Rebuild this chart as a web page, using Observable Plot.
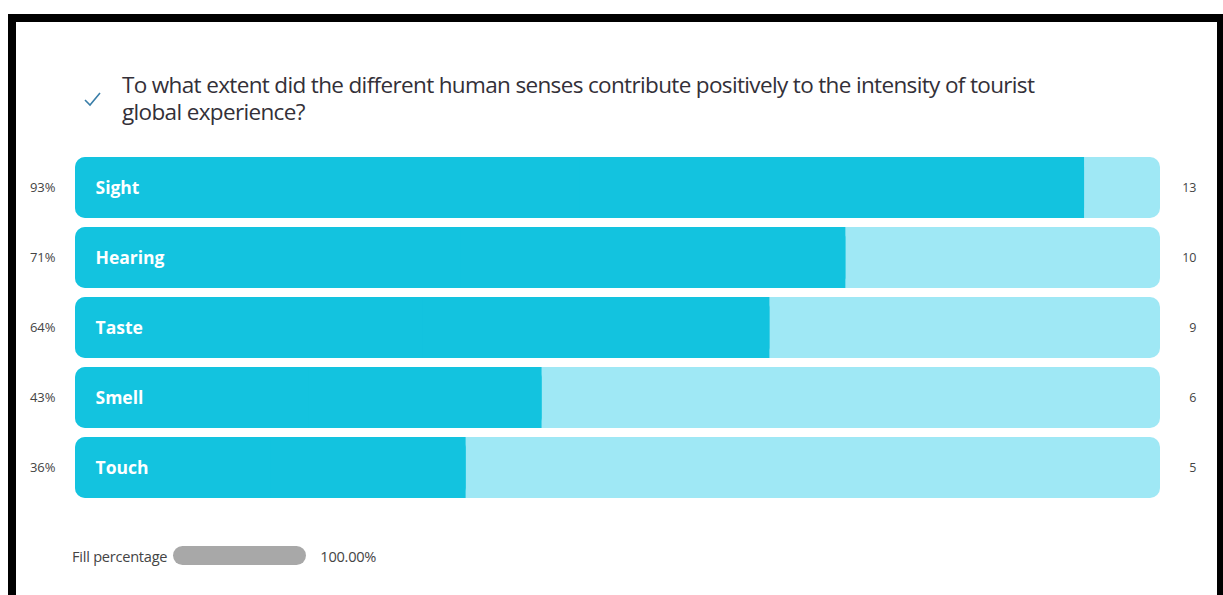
<!DOCTYPE html>
<html>
<head>
<meta charset="utf-8">
<script src="https://cdn.jsdelivr.net/npm/d3@7"></script>
<script src="https://cdn.jsdelivr.net/npm/@observablehq/plot@0.6"></script>
<style>
  html, body { margin: 0; padding: 0; background: #fff; }
  body { width: 1223px; height: 595px; position: relative; overflow: hidden; }
  .frame { position: absolute; background: #000; }
  #title { position: absolute; left: 122px; top: 71px; font-family: "Open Sans", sans-serif; font-size: 22.5px; line-height: 27px; color: #333038; letter-spacing: -0.65px; width: 950px; }
  #check { position: absolute; left: 82px; top: 89px; width: 20px; height: 20px; }
  #chart { position: absolute; left: 0; top: 150px; }
  #legend { position: absolute; left: 72px; top: 546px; height: 19px; display: flex; align-items: center; font-family: "Open Sans", sans-serif; font-size: 14.6px; color: #444; letter-spacing: -0.25px; }
  #legend .pill { width: 133px; height: 19px; border-radius: 10px; background: #a8a8a8; margin: 0 14px 0 6px; }
</style>
</head>
<body>
<div class="frame" style="left:8px;top:14px;width:1215px;height:8px"></div>
<div class="frame" style="left:8px;top:14px;width:8px;height:581px"></div>
<div class="frame" style="left:1217px;top:14px;width:6px;height:581px"></div>
<svg id="check" viewBox="0 0 20 20"><path d="M3 11 L8 16 L18 4" fill="none" stroke="#3a7ea8" stroke-width="1.6"/></svg>
<div id="title">To what extent did the different human senses contribute positively to the intensity of tourist global experience?</div>
<div id="chart"></div>
<div id="legend"><span>Fill percentage</span><span class="pill"></span><span>100.00%</span></div>
<script>
const senses = ["Sight", "Hearing", "Taste", "Smell", "Touch"];
const percents = [93, 71, 64, 43, 36];
const counts = [13, 10, 9, 6, 5];

const data = senses.map((s, i) => ({sense: s, pct: percents[i], count: counts[i]}));

const chart = Plot.plot({
  width: 1223,
  height: 358,
  marginLeft: 75,
  marginRight: 63,
  marginTop: 7,
  marginBottom: 10,
  x: {domain: [0, 100], axis: null},
  y: {domain: senses, axis: null, paddingInner: 9 / 70, paddingOuter: 0},
  style: {background: "transparent"},
  marks: [
    Plot.barX(data, {x1: 0, x2: 100, y: "sense", fill: "#9fe8f5", rx: 10, insetTop: 0, insetBottom: 0}),
    Plot.barX(data, {x1: 0, x2: "pct", y: "sense", fill: "#13c3df", rx: 10, insetTop: 0, insetBottom: 0}),
    Plot.barX(data, {x1: d => d.pct / 2, x2: "pct", y: "sense", fill: "#13c3df", insetTop: 0, insetBottom: 0}),
    Plot.text(data, {x: 0, y: "sense", text: "sense", textAnchor: "start", dx: 20, fill: "#ffffff", fontSize: 17.5, fontWeight: "bold", fontFamily: "'Open Sans', sans-serif", letterSpacing: -0.8}),
    Plot.text(data, {frameAnchor: "left", y: "sense", text: d => d.pct + "%", textAnchor: "end", dx: -20, fill: "#444", fontSize: 13, fontFamily: "'Open Sans', sans-serif", letterSpacing: -0.3}),
    Plot.text(data, {frameAnchor: "right", y: "sense", text: d => String(d.count), textAnchor: "end", dx: 36, fill: "#444", fontSize: 12.5, fontFamily: "'Open Sans', sans-serif"})
  ]
});
document.getElementById("chart").appendChild(chart);
</script>
</body>
</html>
